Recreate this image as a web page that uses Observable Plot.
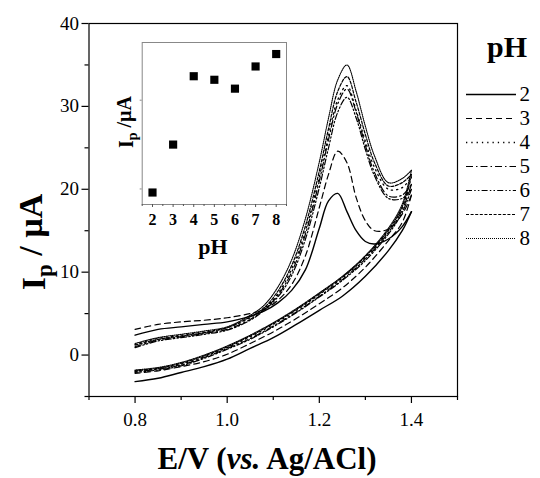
<!DOCTYPE html>
<html>
<head>
<meta charset="utf-8">
<script src="https://cdn.jsdelivr.net/npm/d3@7"></script>
<script src="https://cdn.jsdelivr.net/npm/@observablehq/plot@0.6"></script>
<style>
  html, body { margin: 0; padding: 0; background: #fff; }
  #wrap { position: relative; width: 540px; height: 478px; background: #fff; }
  #wrap > * { position: absolute; }
  #wrap svg, #wrap svg text, #wrap svg tspan { font-family: "Liberation Serif", "Times New Roman", Tinos, "DejaVu Serif", serif !important; }
</style>
</head>
<body>
<div id="wrap"></div>
<script>
// ---- data ----
const pHLevels = [2, 3, 4, 5, 6, 7, 8];
const xTicks = [0.8, 1.0, 1.2, 1.4];
const yTicks = [0, 10, 20, 30, 40];

// forward (anodic) scan potentials, V
const E_fwd = [0.80, 0.85, 0.90, 0.95, 1.00, 1.05, 1.08, 1.11, 1.14, 1.17, 1.20, 1.22, 1.24, 1.26, 1.28, 1.30, 1.32, 1.35, 1.38, 1.40];
// reverse scan potentials, V
const E_rev = [1.40, 1.38, 1.35, 1.30, 1.25, 1.20, 1.15, 1.10, 1.05, 1.00, 0.95, 0.90, 0.85, 0.80];

const I_fwd_pH2 = [2.4, 3.1, 3.4, 3.7, 4.0, 4.7, 5.3, 6.3, 7.8, 10.3, 15.3, 18.6, 19.5, 17.3, 15.0, 13.7, 13.4, 14.0, 15.5, 17.3];
const I_fwd_pH3 = [3.1, 3.7, 4.0, 4.2, 4.5, 5.0, 5.5, 6.6, 8.5, 12.0, 17.8, 21.8, 24.6, 23.2, 19.0, 16.2, 15.0, 15.2, 17.0, 19.3];
const I_fwd_pH4 = [1.3, 2.0, 2.4, 2.8, 3.3, 4.5, 5.6, 7.4, 10.4, 15.0, 21.5, 26.5, 30.8, 32.5, 29.5, 25.8, 22.6, 20.0, 20.2, 21.5];
const I_fwd_pH5 = [1.0, 1.8, 2.2, 2.6, 3.1, 4.3, 5.5, 7.2, 10.0, 14.6, 21.0, 26.0, 30.3, 32.1, 29.3, 25.3, 22.0, 19.2, 19.3, 20.6];
const I_fwd_pH6 = [0.9, 1.7, 2.1, 2.5, 3.0, 4.2, 5.4, 7.0, 9.6, 14.0, 20.2, 25.0, 29.3, 31.1, 28.6, 24.8, 21.6, 18.9, 18.9, 20.0];
const I_fwd_pH7 = [1.2, 1.9, 2.3, 2.7, 3.3, 4.6, 5.7, 7.7, 10.8, 15.6, 22.2, 27.3, 31.8, 33.6, 30.5, 26.6, 23.2, 20.4, 20.8, 21.8];
const I_fwd_pH8 = [1.4, 2.1, 2.5, 2.9, 3.4, 4.8, 6.0, 8.2, 11.5, 16.5, 23.3, 28.6, 33.2, 35.0, 31.8, 27.6, 24.0, 20.8, 21.3, 22.3];

const I_rev_pH2 = [17.3, 15.0, 12.6, 9.5, 7.1, 5.4, 3.7, 2.1, 0.8, -0.5, -1.4, -2.1, -2.8, -3.2];
const I_rev_pH3 = [19.3, 16.0, 13.8, 10.6, 8.1, 6.2, 4.4, 2.8, 1.4, 0.1, -0.8, -1.4, -1.9, -2.2];
const I_rev_pH4 = [21.5, 17.8, 15.0, 11.8, 9.3, 7.3, 5.4, 3.7, 2.2, 0.9, -0.2, -1.1, -1.6, -1.9];
const I_rev_pH5 = [20.6, 17.5, 14.8, 11.6, 9.1, 7.1, 5.2, 3.5, 2.0, 0.8, -0.3, -1.2, -1.7, -2.0];
const I_rev_pH6 = [20.0, 17.2, 14.6, 11.4, 9.0, 7.0, 5.1, 3.4, 1.9, 0.7, -0.4, -1.3, -1.8, -2.1];
const I_rev_pH7 = [21.8, 17.9, 15.1, 11.9, 9.4, 7.4, 5.5, 3.8, 2.3, 1.0, -0.1, -1.0, -1.6, -1.9];
const I_rev_pH8 = [22.3, 18.2, 15.3, 12.0, 9.5, 7.5, 5.6, 3.9, 2.4, 1.1, 0.0, -0.9, -1.5, -1.8];

// inset: peak current vs pH
const insetPH = [2, 3, 4, 5, 6, 7, 8];
const insetIp = [19.6, 25.0, 32.7, 32.3, 31.3, 33.8, 35.2];

// ---- build ----
const fwdSets = [I_fwd_pH2, I_fwd_pH3, I_fwd_pH4, I_fwd_pH5, I_fwd_pH6, I_fwd_pH7, I_fwd_pH8];
const revSets = [I_rev_pH2, I_rev_pH3, I_rev_pH4, I_rev_pH5, I_rev_pH6, I_rev_pH7, I_rev_pH8];
const rows = [];
pHLevels.forEach((p, k) => {
  E_fwd.forEach((e, i) => rows.push({pH: p, branch: "f", E: e, I: fwdSets[k][i]}));
  E_rev.forEach((e, i) => rows.push({pH: p, branch: "r", E: e, I: revSets[k][i]}));
});

const dashStyle = {2: null, 3: "6,4", 4: "1.3,4", 5: "7,3,1.5,3", 6: "6,2.2,1.5,2.2,1.5,2.2", 7: "3,1.6", 8: "1,1"};
const widthStyle = {2: 1.4, 3: 1.2, 4: 1.3, 5: 1.2, 6: 1.2, 7: 1.2, 8: 1.1};

const serif = "Liberation Serif, Times New Roman, serif";

const main = Plot.plot({
  width: 540, height: 478,
  marginLeft: 88.5, marginRight: 83, marginTop: 23, marginBottom: 82,
  style: {fontFamily: serif, fontSize: "19px", color: "#000", background: "transparent", overflow: "visible"},
  x: {domain: [0.7, 1.5]},
  y: {domain: [-5, 40]},
  marks: [
    Plot.frame({stroke: "#000", strokeWidth: 1.2}),
    Plot.axisX({ticks: xTicks, tickSize: 7, tickPadding: 9, tickFormat: d3.format(".1f"), label: null, strokeWidth: 1.2, fontFamily: serif}),
    Plot.axisX({ticks: [0.7, 0.9, 1.1, 1.3, 1.5], tickSize: 4, tickFormat: () => "", label: null, strokeWidth: 1.2}),
    Plot.axisY({ticks: yTicks, tickSize: 7, tickPadding: 3, tickFormat: d3.format("d"), label: null, strokeWidth: 1.2, fontFamily: serif}),
    Plot.axisY({ticks: [-5, 5, 15, 25, 35], tickSize: 4, tickFormat: () => "", label: null, strokeWidth: 1.2}),
    ...pHLevels.map(p => Plot.line(rows.filter(r => r.pH === p), {
      x: "E", y: "I", z: "branch", stroke: "#000",
      strokeWidth: widthStyle[p], strokeDasharray: dashStyle[p], curve: "catmull-rom"
    }))
  ]
});
main.style.left = "0px"; main.style.top = "0px";

const ms = d3.select(main);
// y axis title
const yt = ms.append("text")
  .attr("transform", "translate(45,242) rotate(-90)")
  .attr("text-anchor", "middle")
  .style("font-weight", "bold").style("font-size", "34px").attr("fill", "#000");
yt.append("tspan").text("I");
yt.append("tspan").attr("dy", "0.3em").style("font-size", "23px").text("p");
yt.append("tspan").attr("dy", "-0.3em").text(" / µA");
// x axis title
const xt = ms.append("text")
  .attr("x", 267).attr("y", 469)
  .attr("text-anchor", "middle")
  .style("font-weight", "bold").style("font-size", "31px").attr("fill", "#000");
xt.append("tspan").text("E/V (");
xt.append("tspan").style("font-style", "italic").text("vs.");
xt.append("tspan").text(" Ag/ACl)");

document.getElementById("wrap").append(main);

// ---- inset ----
const inset = Plot.plot({
  width: 205, height: 235,
  marginLeft: 46.7, marginRight: 14, marginTop: 12, marginBottom: 61,
  style: {fontFamily: serif, fontSize: "16px", fontWeight: "bold", color: "#000", background: "transparent", overflow: "visible"},
  x: {domain: [1.5, 8.5]},
  y: {domain: [18.25, 36.5]},
  marks: [
    Plot.frame({stroke: "#888", strokeWidth: 1}),
    Plot.axisX({ticks: insetPH, tickSize: 3, tickPadding: 6, tickFormat: d3.format("d"), label: null, stroke: "#555", fontFamily: serif, fontWeight: "bold"}),
    Plot.axisX({ticks: d3.range(1.5, 8.6, 1), tickSize: 2, tickFormat: () => "", label: null, stroke: "#555"}),
    Plot.axisY({ticks: [20, 30], tickSize: 2, tickFormat: () => "", label: null, stroke: "#888"}),
    Plot.dot(insetPH.map((p, i) => ({pH: p, Ip: insetIp[i]})), {x: "pH", y: "Ip", symbol: "square", r: 4.6, fill: "#000", stroke: "none"})
  ]
});
inset.style.left = "95px"; inset.style.top = "30px";
const is = d3.select(inset);
const iyt = is.append("text")
  .attr("transform", "translate(38,92) rotate(-90)")
  .attr("text-anchor", "middle")
  .style("font-weight", "bold").style("font-size", "20px").attr("fill", "#000");
iyt.append("tspan").text("I");
iyt.append("tspan").attr("dy", "0.3em").style("font-size", "14px").text("p");
iyt.append("tspan").attr("dy", "-0.3em").text(" /µA");
is.append("text").attr("x", 118).attr("y", 224).attr("text-anchor", "middle")
  .style("font-weight", "bold").style("font-size", "22px").attr("fill", "#000").text("pH");
document.getElementById("wrap").append(inset);

// ---- legend ----
const legend = Plot.plot({
  width: 85, height: 280,
  marginLeft: 11, marginRight: 24, marginTop: 79, marginBottom: 27,
  style: {fontFamily: serif, fontSize: "21px", color: "#000", background: "transparent", overflow: "visible"},
  x: {domain: [0, 1], axis: null},
  y: {type: "point", domain: pHLevels, axis: null},
  marks: [
    ...pHLevels.map(p => Plot.ruleY([p], {y: d => d, x1: 0, x2: 1, stroke: "#000", strokeWidth: widthStyle[p], strokeDasharray: dashStyle[p]})),
    Plot.text(pHLevels, {y: d => d, x: 1, dx: 3, text: d => String(d), textAnchor: "start", fill: "#000", fontFamily: serif})
  ]
});
legend.style.left = "455px"; legend.style.top = "0px";
d3.select(legend).append("text").attr("x", 52).attr("y", 57).attr("text-anchor", "middle")
  .style("font-weight", "bold").style("font-size", "30px").attr("fill", "#000").text("pH");
document.getElementById("wrap").append(legend);
</script>
</body>
</html>
